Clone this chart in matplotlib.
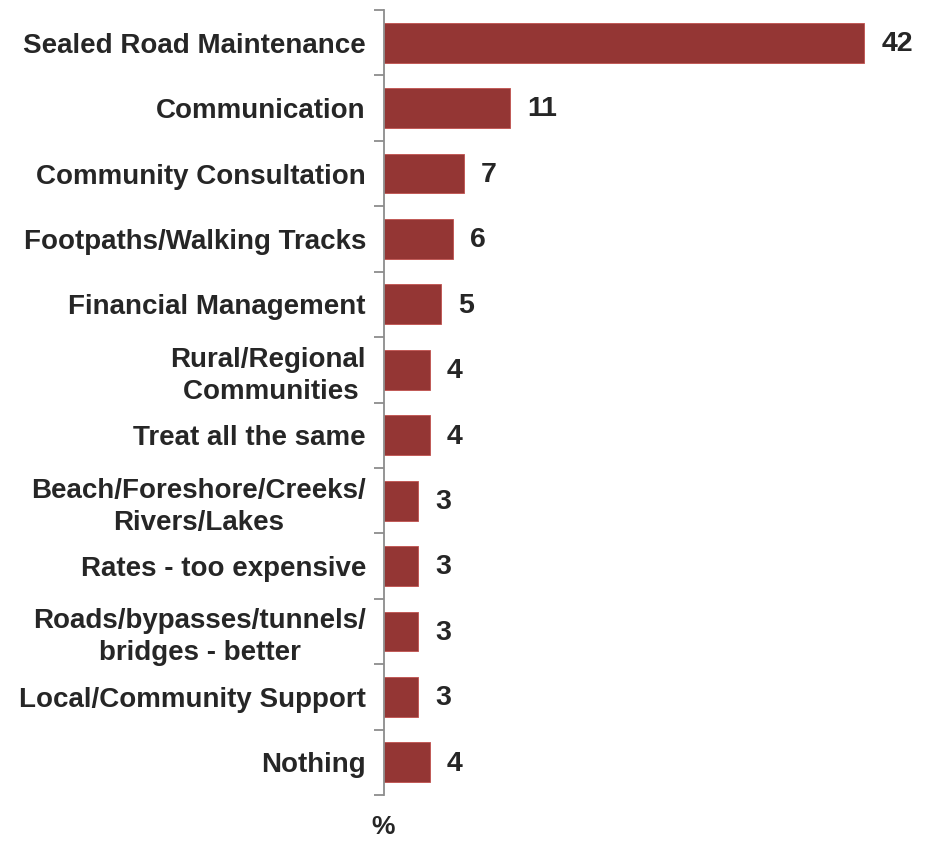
import matplotlib.pyplot as plt

plt.rcParams['font.family'] = ['Liberation Sans', 'DejaVu Sans']

categories = ['Sealed Road Maintenance', 'Communication', 'Community Consultation',
              'Footpaths/Walking Tracks', 'Financial Management',
              'Rural/Regional\nCommunities ', 'Treat all the same',
              'Beach/Foreshore/Creeks/\nRivers/Lakes', 'Rates - too expensive',
              'Roads/bypasses/tunnels/\nbridges - better',
              'Local/Community Support', 'Nothing']
values = [42, 11, 7, 6, 5, 4, 4, 3, 3, 3, 3, 4]

bar_color = '#943634'
text_color = '#262626'

fig = plt.figure(figsize=(9.3, 8.41), dpi=100)
ax = fig.add_axes([384 / 930, 1 - 795 / 841, 45 * 11.43 / 930, 785 / 841])

pos = list(range(len(categories)))
ax.barh(pos, values, height=0.61, color=bar_color, edgecolor='#c0504d', linewidth=0.6)
ax.set_ylim(len(categories) - 0.5, -0.5)
ax.set_xlim(0, 45)

for p, v in zip(pos, values):
    ax.text(v + 1.5, p + 0.02, str(v), va='center', ha='left', fontsize=20.5,
            fontweight='bold', color=text_color)

ax.set_yticks(pos)
ax.set_yticklabels(categories, fontsize=20, fontweight='bold', color=text_color,
                   linespacing=1.3)
for tl in ax.get_yticklabels():
    if tl.get_text().startswith('Rural'):
        tl.set_multialignment('right')
    else:
        tl.set_multialignment('center')
ax.tick_params(axis='y', length=0, pad=13)
ax.set_yticks([i - 0.5 for i in range(len(categories) + 1)], minor=True)
ax.tick_params(axis='y', which='minor', length=7, width=1.3, color='#8c8c8c')

ax.set_xticks([])
for s in ['top', 'right', 'bottom']:
    ax.spines[s].set_visible(False)
ax.spines['left'].set_color('#8c8c8c')
ax.spines['left'].set_linewidth(1.3)

fig.text(383 / 930, 1 - 827 / 841, '%', ha='center', va='center', fontsize=19,
         fontweight='bold', color=text_color)

fig.savefig('out.png', dpi=100)
